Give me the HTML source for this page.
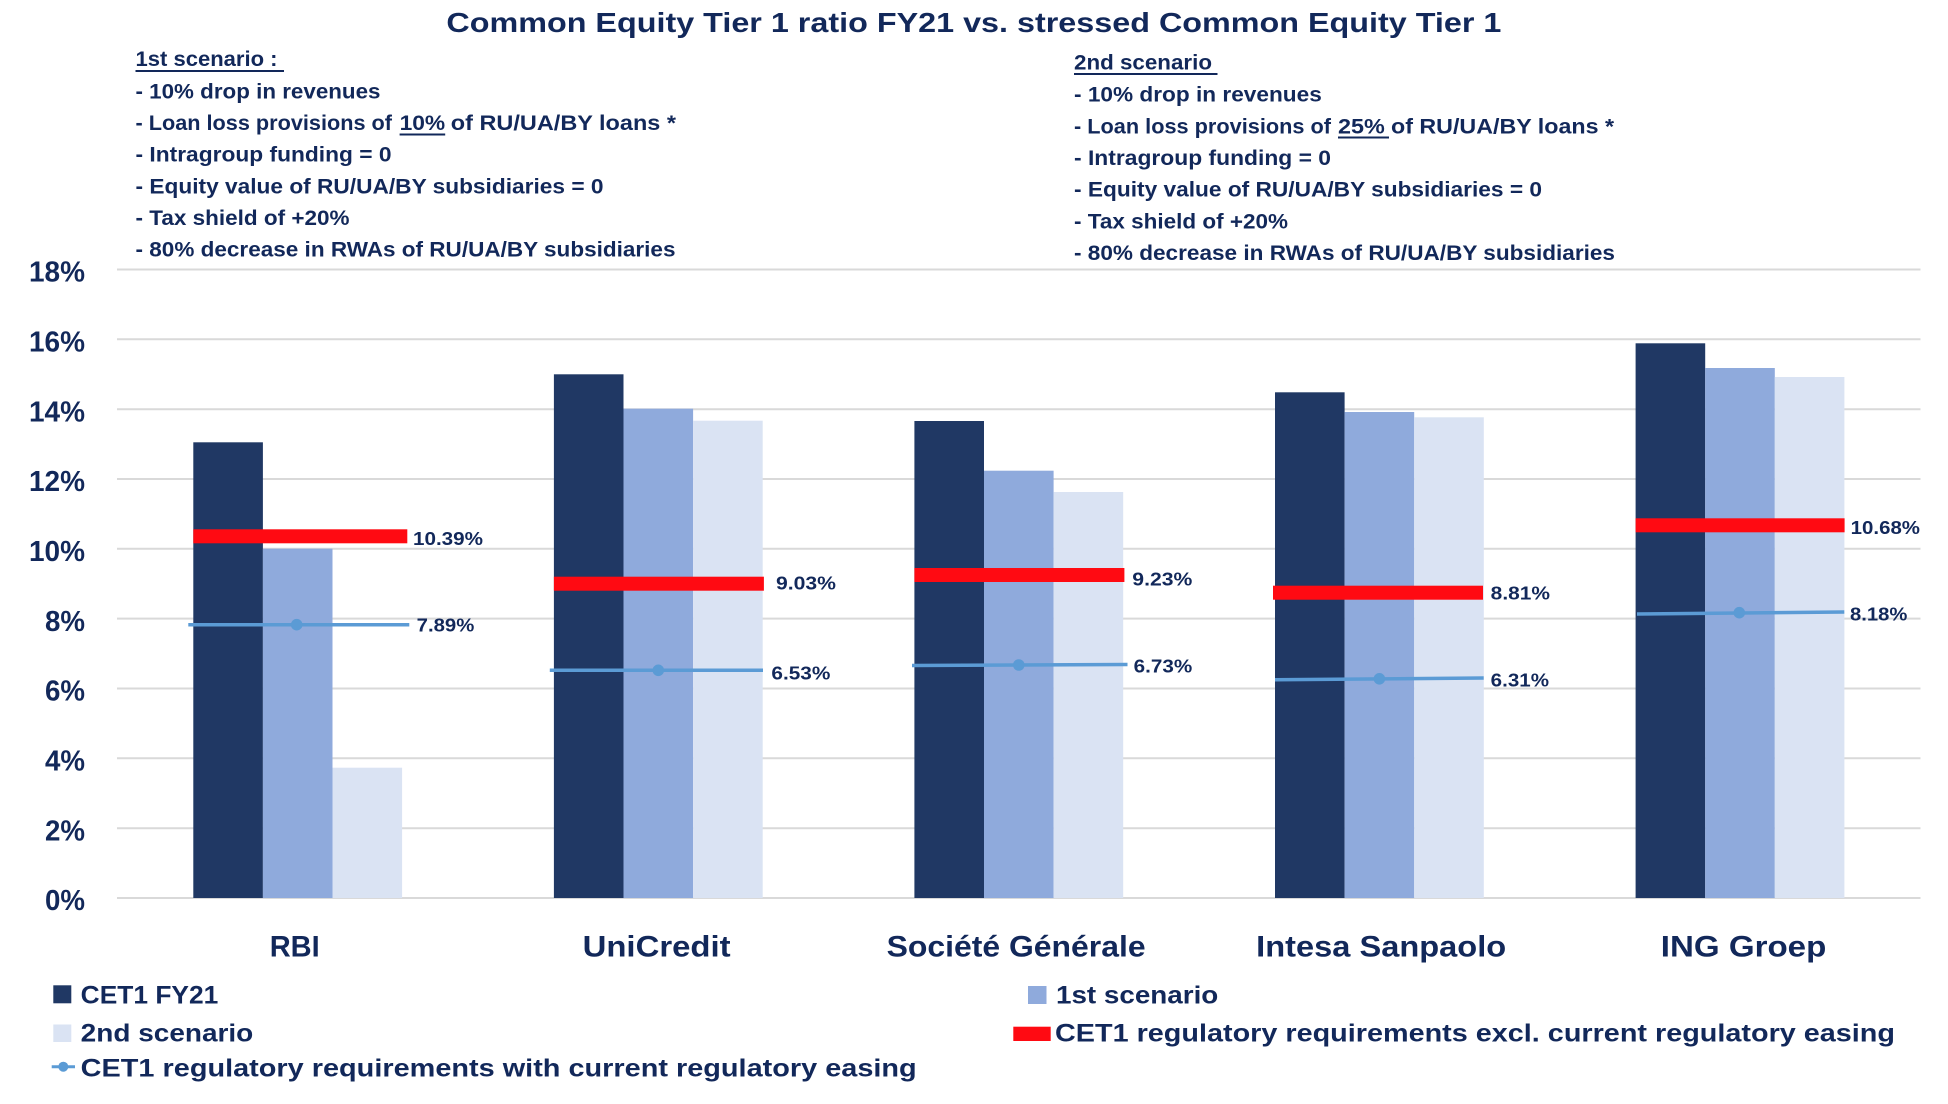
<!DOCTYPE html>
<html>
<head>
<meta charset="utf-8">
<style>
  html,body{margin:0;padding:0;background:#ffffff;}
  svg{display:block;}
  text{font-family:"Liberation Sans", Arial, sans-serif;font-weight:bold;fill:#12285a;}
</style>
</head>
<body>
<svg width="1948" height="1104" viewBox="0 0 1948 1104" xmlns="http://www.w3.org/2000/svg">
  <rect x="0" y="0" width="1948" height="1104" fill="#ffffff"/>

  <!-- Title -->
  <text x="446.4" y="32" font-size="28" textLength="1055" lengthAdjust="spacingAndGlyphs">Common Equity Tier 1 ratio FY21 vs. stressed Common Equity Tier 1</text>

  <!-- Left scenario block -->
  <g font-size="21">
    <text x="135.5" y="66" textLength="142" lengthAdjust="spacingAndGlyphs">1st scenario :</text>
    <text x="135.5" y="98.3" textLength="245" lengthAdjust="spacingAndGlyphs">- 10% drop in revenues</text>
    <text x="135.5" y="130" textLength="256.5" lengthAdjust="spacingAndGlyphs">- Loan loss provisions of</text>
    <text x="399.6" y="130" textLength="45.6" lengthAdjust="spacingAndGlyphs">10%</text>
    <text x="450.8" y="130" textLength="225.2" lengthAdjust="spacingAndGlyphs">of RU/UA/BY loans *</text>
    <text x="135.5" y="161.7" textLength="256" lengthAdjust="spacingAndGlyphs">- Intragroup funding = 0</text>
    <text x="135.5" y="193.3" textLength="468" lengthAdjust="spacingAndGlyphs">- Equity value of RU/UA/BY subsidiaries = 0</text>
    <text x="135.5" y="225" textLength="214" lengthAdjust="spacingAndGlyphs">- Tax shield of +20%</text>
    <text x="135.5" y="256.7" textLength="540" lengthAdjust="spacingAndGlyphs">- 80% decrease in RWAs of RU/UA/BY subsidiaries</text>
  </g>
  <rect x="135.5" y="70" width="148.5" height="2" fill="#12285a"/>
  <rect x="399.6" y="133.5" width="45.6" height="2" fill="#12285a"/>

  <!-- Right scenario block -->
  <g font-size="21">
    <text x="1074" y="69.5" textLength="138" lengthAdjust="spacingAndGlyphs">2nd scenario</text>
    <text x="1074" y="101.5" textLength="247.8" lengthAdjust="spacingAndGlyphs">- 10% drop in revenues</text>
    <text x="1074" y="133.3" textLength="257" lengthAdjust="spacingAndGlyphs">- Loan loss provisions of</text>
    <text x="1338" y="133.3" textLength="46.8" lengthAdjust="spacingAndGlyphs">25%</text>
    <text x="1391" y="133.3" textLength="223" lengthAdjust="spacingAndGlyphs">of RU/UA/BY loans *</text>
    <text x="1074" y="165" textLength="257" lengthAdjust="spacingAndGlyphs">- Intragroup funding = 0</text>
    <text x="1074" y="196.7" textLength="468" lengthAdjust="spacingAndGlyphs">- Equity value of RU/UA/BY subsidiaries = 0</text>
    <text x="1074" y="228.5" textLength="214" lengthAdjust="spacingAndGlyphs">- Tax shield of +20%</text>
    <text x="1074" y="260" textLength="541" lengthAdjust="spacingAndGlyphs">- 80% decrease in RWAs of RU/UA/BY subsidiaries</text>
  </g>
  <rect x="1074" y="73" width="143.5" height="2" fill="#12285a"/>
  <rect x="1338" y="136.5" width="51" height="2" fill="#12285a"/>

  <!-- Gridlines (0% at 898, 34.92px per 1%) -->
  <g stroke="#d9d9d9" stroke-width="2">
    <line x1="117" y1="269.5" x2="1920.5" y2="269.5"/>
    <line x1="117" y1="339.3" x2="1920.5" y2="339.3"/>
    <line x1="117" y1="409.2" x2="1920.5" y2="409.2"/>
    <line x1="117" y1="479.0" x2="1920.5" y2="479.0"/>
    <line x1="117" y1="548.8" x2="1920.5" y2="548.8"/>
    <line x1="117" y1="618.6" x2="1920.5" y2="618.6"/>
    <line x1="117" y1="688.5" x2="1920.5" y2="688.5"/>
    <line x1="117" y1="758.3" x2="1920.5" y2="758.3"/>
    <line x1="117" y1="828.2" x2="1920.5" y2="828.2"/>
    <line x1="117" y1="898" x2="1920.5" y2="898"/>
  </g>

  <!-- Y axis labels -->
  <g font-size="29" text-anchor="end">
    <text x="85" y="281.7" textLength="56" lengthAdjust="spacingAndGlyphs">18%</text>
    <text x="85" y="351.5" textLength="56" lengthAdjust="spacingAndGlyphs">16%</text>
    <text x="85" y="421.4" textLength="56" lengthAdjust="spacingAndGlyphs">14%</text>
    <text x="85" y="491.2" textLength="56" lengthAdjust="spacingAndGlyphs">12%</text>
    <text x="85" y="561.0" textLength="56" lengthAdjust="spacingAndGlyphs">10%</text>
    <text x="85" y="630.8" textLength="40" lengthAdjust="spacingAndGlyphs">8%</text>
    <text x="85" y="700.7" textLength="40" lengthAdjust="spacingAndGlyphs">6%</text>
    <text x="85" y="770.5" textLength="40" lengthAdjust="spacingAndGlyphs">4%</text>
    <text x="85" y="840.4" textLength="40" lengthAdjust="spacingAndGlyphs">2%</text>
    <text x="85" y="910.2" textLength="40" lengthAdjust="spacingAndGlyphs">0%</text>
  </g>

  <!-- Bars -->
  <rect x="193.3" y="442.3" width="69.6" height="455.7" fill="#203864"/>
  <rect x="262.9" y="548.7" width="69.6" height="349.3" fill="#8faadc"/>
  <rect x="332.5" y="767.7" width="69.6" height="130.3" fill="#dae3f3"/>
  <rect x="553.9" y="374.3" width="69.6" height="523.7" fill="#203864"/>
  <rect x="623.5" y="408.7" width="69.6" height="489.3" fill="#8faadc"/>
  <rect x="693.1" y="420.7" width="69.6" height="477.3" fill="#dae3f3"/>
  <rect x="914.4" y="421" width="69.6" height="477" fill="#203864"/>
  <rect x="984.0" y="470.7" width="69.6" height="427.3" fill="#8faadc"/>
  <rect x="1053.6" y="492" width="69.6" height="406" fill="#dae3f3"/>
  <rect x="1275.0" y="392.3" width="69.6" height="505.7" fill="#203864"/>
  <rect x="1344.6" y="412" width="69.6" height="486" fill="#8faadc"/>
  <rect x="1414.2" y="417.3" width="69.6" height="480.7" fill="#dae3f3"/>
  <rect x="1635.6" y="343.3" width="69.6" height="554.7" fill="#203864"/>
  <rect x="1705.2" y="368" width="69.6" height="530" fill="#8faadc"/>
  <rect x="1774.8" y="377" width="69.6" height="521" fill="#dae3f3"/>

  <!-- Red lines (excl. easing) -->
  <g fill="#ff0a12">
    <rect x="193.3" y="529.3" width="214" height="14"/>
    <rect x="553.9" y="576.7" width="210" height="14"/>
    <rect x="914.4" y="568" width="210" height="14"/>
    <rect x="1273" y="585.7" width="210" height="14"/>
    <rect x="1635.6" y="518.3" width="209" height="14"/>
  </g>

  <!-- Blue lines (with easing) -->
  <g stroke="#5b9bd5" stroke-width="3.5" fill="none">
    <line x1="188.3" y1="624.7" x2="409.3" y2="624.7"/>
    <line x1="549.8" y1="670.3" x2="763" y2="670.3"/>
    <line x1="912" y1="665.5" x2="1127.5" y2="664.5"/>
    <line x1="1275" y1="679.7" x2="1483.7" y2="678"/>
    <line x1="1637" y1="614" x2="1844.3" y2="612"/>
  </g>
  <g fill="#5b9bd5">
    <circle cx="296.7" cy="624.7" r="5.8"/>
    <circle cx="658.3" cy="670.3" r="5.8"/>
    <circle cx="1018.8" cy="665" r="5.8"/>
    <circle cx="1379.4" cy="678.8" r="5.8"/>
    <circle cx="1739.3" cy="612.7" r="5.8"/>
  </g>

  <!-- Data labels -->
  <g font-size="18">
    <text x="413" y="545" textLength="70" lengthAdjust="spacingAndGlyphs">10.39%</text>
    <text x="416.7" y="631.7" textLength="57.6" lengthAdjust="spacingAndGlyphs">7.89%</text>
    <text x="776" y="589.3" textLength="60" lengthAdjust="spacingAndGlyphs">9.03%</text>
    <text x="771.4" y="679.3" textLength="59" lengthAdjust="spacingAndGlyphs">6.53%</text>
    <text x="1132.3" y="585.7" textLength="60" lengthAdjust="spacingAndGlyphs">9.23%</text>
    <text x="1133.7" y="672.3" textLength="58.6" lengthAdjust="spacingAndGlyphs">6.73%</text>
    <text x="1490.7" y="599.3" textLength="59.3" lengthAdjust="spacingAndGlyphs">8.81%</text>
    <text x="1490.7" y="686.7" textLength="58.3" lengthAdjust="spacingAndGlyphs">6.31%</text>
    <text x="1850.7" y="534" textLength="69.3" lengthAdjust="spacingAndGlyphs">10.68%</text>
    <text x="1850" y="620.7" textLength="57.3" lengthAdjust="spacingAndGlyphs">8.18%</text>
  </g>

  <!-- Category labels -->
  <g font-size="30">
    <text x="269.7" y="956.5" textLength="50" lengthAdjust="spacingAndGlyphs">RBI</text>
    <text x="582.6" y="956.5" textLength="148" lengthAdjust="spacingAndGlyphs">UniCredit</text>
    <text x="886.6" y="956.5" textLength="259" lengthAdjust="spacingAndGlyphs">Société Générale</text>
    <text x="1256.2" y="956.5" textLength="250" lengthAdjust="spacingAndGlyphs">Intesa Sanpaolo</text>
    <text x="1660.8" y="956.5" textLength="165.5" lengthAdjust="spacingAndGlyphs">ING Groep</text>
  </g>

  <!-- Legend -->
  <rect x="53.3" y="985.3" width="18" height="18" fill="#203864"/>
  <rect x="53.3" y="1024.5" width="18" height="17.5" fill="#dae3f3"/>
  <line x1="51.7" y1="1066.7" x2="75" y2="1066.7" stroke="#5b9bd5" stroke-width="3"/>
  <circle cx="63.3" cy="1066.7" r="5" fill="#5b9bd5"/>
  <rect x="1028" y="986" width="18.5" height="18" fill="#8faadc"/>
  <rect x="1013.3" y="1026.7" width="37.4" height="14.3" fill="#ff0a12"/>
  <g font-size="25">
    <text x="80.7" y="1003.3" textLength="137.6" lengthAdjust="spacingAndGlyphs">CET1 FY21</text>
    <text x="80.7" y="1041.7" textLength="172.6" lengthAdjust="spacingAndGlyphs">2nd scenario</text>
    <text x="80.7" y="1076.5" textLength="836" lengthAdjust="spacingAndGlyphs">CET1 regulatory requirements with current regulatory easing</text>
    <text x="1056" y="1003.3" textLength="162.3" lengthAdjust="spacingAndGlyphs">1st scenario</text>
    <text x="1055" y="1041.7" textLength="840" lengthAdjust="spacingAndGlyphs">CET1 regulatory requirements excl. current regulatory easing</text>
  </g>
</svg>
</body>
</html>
